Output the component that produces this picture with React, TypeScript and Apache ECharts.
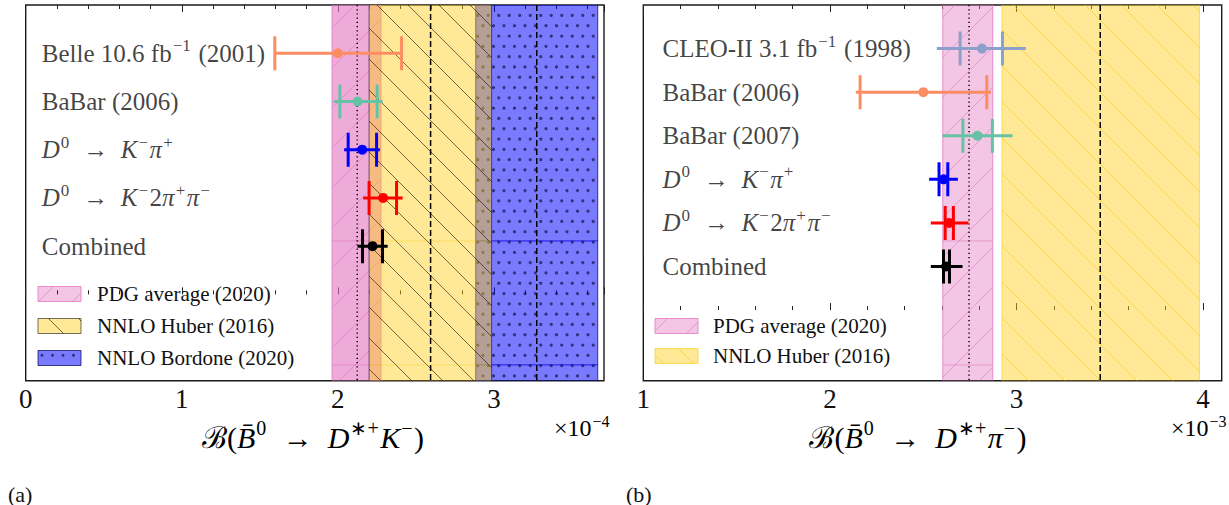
import React, { useEffect, useRef } from 'react';
import * as echarts from 'echarts';

const INK = '#111111';
const SERIF = 'Liberation Serif';
const SP = '\u2002';

// ---------- Panel (a): B(B0bar -> D*+ K-)  [x 10^-4] ----------
const leftLabels = [
  '{r|Belle 10.6 fb}{s|−1}{r| (2001)}',
  '{r|BaBar (2006)}',
  `{i|D}{s|0}{r|${SP}→${SP}}{i|K}{s|−}{i|π}{s|+}`,
  `{i|D}{s|0}{r|${SP}→${SP}}{i|K}{s|−}{r|2}{i|π}{s|+}{i|π}{s|−}`,
  '{r|Combined}',
];
const leftRowY = [5, 4, 3, 2, 1];
const leftCentre = [2.0, 2.126, 2.156, 2.29, 2.222];
const leftStatLo = [1.596, 2.013, 2.066, 2.2, 2.158];
const leftStatHi = [2.408, 2.252, 2.248, 2.376, 2.286];
const leftTotLo = [1.596, 1.974, 2.04, 2.162, 2.126];
const leftTotHi = [2.408, 2.287, 2.269, 2.415, 2.319];
const leftColours = ['#FC8D62', '#66C2A5', '#0000FF', '#FF0000', '#000000'];
const leftPdg = [1.963, 2.276, 2.124]; // low, high, central
const leftHuber = [2.2, 2.985, 2.594];
const leftBordone = [2.883, 3.665, 3.274];
const leftLegend = ['PDG average (2020)', 'NNLO Huber (2016)', 'NNLO Bordone (2020)'];

// ---------- Panel (b): B(B0bar -> D*+ pi-)  [x 10^-3] ----------
const rightLabels = [
  '{r|CLEO-II 3.1 fb}{s|−1}{r| (1998)}',
  '{r|BaBar (2006)}',
  '{r|BaBar (2007)}',
  `{i|D}{s|0}{r|${SP}→${SP}}{i|K}{s|−}{i|π}{s|+}`,
  `{i|D}{s|0}{r|${SP}→${SP}}{i|K}{s|−}{r|2}{i|π}{s|+}{i|π}{s|−}`,
  '{r|Combined}',
];
const rightRowY = [6, 5, 4, 3, 2, 1];
const rightCentre = [2.815, 2.501, 2.791, 2.609, 2.639, 2.623];
const rightStatLo = [2.698, 2.162, 2.713, 2.585, 2.618, 2.609];
const rightStatHi = [2.925, 2.841, 2.871, 2.632, 2.662, 2.641];
const rightTotLo = [2.573, 2.139, 2.603, 2.532, 2.541, 2.541];
const rightTotHi = [3.05, 2.863, 2.979, 2.686, 2.743, 2.711];
const rightColours = ['#8DA0CB', '#FC8D62', '#66C2A5', '#0000FF', '#FF0000', '#000000'];
const rightPdg = [2.605, 2.873, 2.746];
const rightHuber = [2.922, 3.981, 3.449];
const rightLegend = ['PDG average (2020)', 'NNLO Huber (2016)'];

const SEAMS = [0.628, 0.958];

const rich = (size: number) => ({
  r: { fontFamily: SERIF, fontSize: size, color: INK },
  i: { fontFamily: SERIF, fontSize: size, fontStyle: 'italic', color: INK },
  s: { fontFamily: SERIF, fontSize: Math.round(size * 0.68), color: INK, padding: [0, 1.5, Math.round(size * 0.6), 1] },
  c: { fontFamily: 'DejaVu Serif', fontSize: size, color: INK },
});

function hatch(x0: number, y0: number, x1: number, y1: number, sp: number, dir: string, stroke: string, lw: number) {
  const out: any[] = [];
  if (dir === 'back') {
    const kMin = Math.floor((y0 - x1) / sp) * sp;
    for (let k = kMin; k <= y1 - x0; k += sp) {
      const xa = Math.max(x0, y0 - k);
      const xb = Math.min(x1, y1 - k);
      if (xb > xa) out.push({ type: 'line', silent: true, shape: { x1: xa, y1: xa + k, x2: xb, y2: xb + k }, style: { stroke, lineWidth: lw } });
    }
  } else {
    const kMin = Math.floor((x0 + y0) / sp) * sp;
    for (let k = kMin; k <= x1 + y1; k += sp) {
      const xa = Math.max(x0, k - y1);
      const xb = Math.min(x1, k - y0);
      if (xb > xa) out.push({ type: 'line', silent: true, shape: { x1: xa, y1: k - xa, x2: xb, y2: k - xb }, style: { stroke, lineWidth: lw } });
    }
  }
  return out;
}

function dots(x0: number, y0: number, x1: number, y1: number, dx: number, dy: number, r: number, fill: string) {
  const out: any[] = [];
  for (let j = Math.floor(y0 / dy) - 1; j * dy <= y1 + dy; j++) {
    const y = j * dy + dy / 2;
    if (y < y0 + 1.5 || y > y1 - 1.5) continue;
    const off = Math.abs(j) % 2 ? dx / 2 : 0;
    for (let i = Math.floor((x0 - off) / dx) - 1; ; i++) {
      const x = i * dx + off;
      if (x > x1 - 1.5) break;
      if (x < x0 + 1.5) continue;
      out.push({ type: 'circle', silent: true, shape: { cx: x, cy: y, r }, style: { fill } });
    }
  }
  return out;
}

type BandStyle = {
  fill: string;
  edge: string;
  hatch?: { dir: string; sp: number; stroke: string; lw: number };
  dots?: { dx: number; dy: number; r: number; fill: string };
  centreDash: number[];
  seam?: string;
  z: number;
};

function bandSeries(axis: number, band: number[], o: BandStyle) {
  return {
    type: 'custom',
    xAxisIndex: axis,
    yAxisIndex: axis,
    z: o.z,
    silent: true,
    clip: true,
    encode: { x: [0, 1, 2] },
    data: [band],
    renderItem: (params: any, api: any) => {
      const cs = params.coordSys;
      const top = cs.y;
      const bot = cs.y + cs.height;
      const x0 = api.coord([api.value(0), 0])[0];
      const x1 = api.coord([api.value(1), 0])[0];
      const xc = api.coord([api.value(2), 0])[0];
      const ch: any[] = [
        { type: 'rect', shape: { x: x0, y: top, width: x1 - x0, height: bot - top }, style: { fill: o.fill } },
      ];
      if (o.dots) ch.push(...dots(x0, top, x1, bot, o.dots.dx, o.dots.dy, o.dots.r, o.dots.fill));
      if (o.hatch) ch.push(...hatch(x0, top, x1, bot, o.hatch.sp, o.hatch.dir, o.hatch.stroke, o.hatch.lw));
      if (o.seam) {
        for (const f of SEAMS) {
          const y = top + f * (bot - top);
          ch.push({ type: 'line', shape: { x1: x0, y1: y, x2: x1, y2: y }, style: { stroke: o.seam, lineWidth: 1 } });
        }
      }
      ch.push({ type: 'line', shape: { x1: x0, y1: top, x2: x0, y2: bot }, style: { stroke: o.edge, lineWidth: 1 } });
      ch.push({ type: 'line', shape: { x1: x1, y1: top, x2: x1, y2: bot }, style: { stroke: o.edge, lineWidth: 1 } });
      ch.push({
        type: 'line',
        shape: { x1: xc, y1: top, x2: xc, y2: bot },
        style: { stroke: '#000', lineWidth: 1.5, lineDash: o.centreDash },
      });
      return { type: 'group', children: ch };
    },
  };
}

function errorSeries(axis: number, ys: number[], c: number[], sLo: number[], sHi: number[], tLo: number[], tHi: number[], cols: string[]) {
  const data = ys.map((y, i) => [y, c[i], sLo[i], sHi[i], tLo[i], tHi[i]]);
  return {
    type: 'custom',
    xAxisIndex: axis,
    yAxisIndex: axis,
    z: 10,
    silent: true,
    clip: true,
    encode: { x: [1, 2, 3, 4, 5], y: 0 },
    data,
    renderItem: (params: any, api: any) => {
      const col = cols[params.dataIndex];
      const yv = api.value(0);
      const px = (v: number) => api.coord([v, yv])[0];
      const y = api.coord([0, yv])[1];
      const st = { stroke: col, lineWidth: 3 };
      const h = 17;
      return {
        type: 'group',
        children: [
          { type: 'line', shape: { x1: px(api.value(4)), y1: y, x2: px(api.value(5)), y2: y }, style: st },
          { type: 'line', shape: { x1: px(api.value(2)), y1: y - h, x2: px(api.value(2)), y2: y + h }, style: st },
          { type: 'line', shape: { x1: px(api.value(3)), y1: y - h, x2: px(api.value(3)), y2: y + h }, style: st },
          { type: 'circle', shape: { cx: px(api.value(1)), cy: y, r: 5 }, style: { fill: col } },
        ],
      };
    },
  };
}

function labelSeries(axis: number, x: number, ys: number[], labels: string[]) {
  return {
    type: 'scatter',
    xAxisIndex: axis,
    yAxisIndex: axis,
    z: 11,
    silent: true,
    symbolSize: 1,
    itemStyle: { color: 'rgba(0,0,0,0)' },
    data: ys.map((y) => [x, y]),
    label: {
      show: true,
      position: 'right',
      distance: 0,
      formatter: (p: any) => labels[p.dataIndex],
      rich: rich(25),
    },
  };
}

function xAxes(grid: number, min: number, max: number) {
  const tick = { show: true, inside: true, length: 7, lineStyle: { color: '#222', width: 1 } };
  const minor = { show: true, splitNumber: 5, length: 4, lineStyle: { color: '#222', width: 1 } };
  return [
    {
      type: 'value', gridIndex: grid, position: 'bottom', min, max, interval: 1,
      axisLine: { show: false }, axisTick: tick, minorTick: minor, splitLine: { show: false },
      axisLabel: {
        show: true, margin: 5, fontFamily: SERIF, fontSize: 27, color: INK,
        showMaxLabel: false,
        formatter: (v: number) => (Math.abs(v - Math.round(v)) < 1e-9 ? String(Math.round(v)) : ''),
      },
    },
    {
      type: 'value', gridIndex: grid, position: 'top', min, max, interval: 1,
      axisLine: { show: false }, axisTick: tick, minorTick: minor, splitLine: { show: false },
      axisLabel: { show: false },
    },
  ];
}

function legendItem(x: number, y: number, label: string, kind: string, pale: boolean, textX: number) {
  const w = 43;
  const h = 15;
  const x0 = x;
  const y0 = y - h / 2;
  const x1 = x + w;
  const y1 = y + h / 2;
  const els: any[] = [];
  if (kind === 'pdg') {
    els.push({ type: 'rect', shape: { x: x0, y: y0, width: w, height: h }, style: { fill: 'rgba(227,119,194,0.42)' } });
    els.push(...hatch(x0, y0, x1, y1, 34, 'fwd', 'rgba(220,100,180,0.5)', 1));
    els.push({ type: 'rect', shape: { x: x0, y: y0, width: w, height: h }, style: { fill: 'none', stroke: 'rgba(227,119,194,0.8)', lineWidth: 1 } });
  } else if (kind === 'huber') {
    els.push({ type: 'rect', shape: { x: x0, y: y0, width: w, height: h }, style: { fill: 'rgba(255,206,22,0.45)' } });
    if (pale) {
      els.push(...hatch(x0, y0, x1, y1, 30, 'back', 'rgba(250,200,0,0.55)', 1));
      els.push({ type: 'rect', shape: { x: x0, y: y0, width: w, height: h }, style: { fill: 'none', stroke: 'rgba(250,205,0,0.6)', lineWidth: 1 } });
    } else {
      els.push(...hatch(x0, y0, x1, y1, 30, 'back', 'rgba(0,0,0,0.55)', 1));
      els.push({ type: 'rect', shape: { x: x0, y: y0, width: w, height: h }, style: { fill: 'none', stroke: 'rgba(0,0,0,0.55)', lineWidth: 1 } });
    }
  } else {
    els.push({ type: 'rect', shape: { x: x0, y: y0, width: w, height: h }, style: { fill: 'rgba(0,0,255,0.52)' } });
    els.push(...dots(x0, y0, x1, y1, 10.5, 10.3, 1.5, 'rgba(20,20,70,0.7)'));
    els.push({ type: 'rect', shape: { x: x0, y: y0, width: w, height: h }, style: { fill: 'none', stroke: 'rgba(0,0,80,0.7)', lineWidth: 1 } });
  }
  els.push({
    type: 'text', x: textX, y,
    style: { text: label, fontFamily: SERIF, fontSize: 21, fill: INK, align: 'left', verticalAlign: 'middle' },
  });
  return els;
}

export default function App() {
  const ref = useRef<HTMLDivElement>(null);
  useEffect(() => {
    document.body.style.margin = '0';
    const chart = echarts.init(ref.current!, null, { renderer: 'svg' });
    const [xb0, xt0] = xAxes(0, 0, 3.705);
    const [xb1, xt1] = xAxes(1, 1, 4.1);
    const pink = 'rgba(220,100,180,0.45)';
    const option: any = {
      animation: false,
      backgroundColor: '#ffffff',
      textStyle: { fontFamily: SERIF },
      grid: [
        { left: 25.7, top: 5, width: 578.3, height: 375.7, show: true, borderColor: '#1a1a1a', borderWidth: 1.4, backgroundColor: 'transparent' },
        { left: 643.3, top: 5, width: 578.4, height: 375.7, show: true, borderColor: '#1a1a1a', borderWidth: 1.4, backgroundColor: 'transparent' },
      ],
      xAxis: [xb0, xb1, { ...xt0, gridIndex: 0 }, { ...xt1, gridIndex: 1 }],
      yAxis: [
        { type: 'value', gridIndex: 0, min: -1.79, max: 6, show: false },
        { type: 'value', gridIndex: 1, min: -1.62, max: 7, show: false },
      ],
      series: [
        bandSeries(0, leftPdg, {
          fill: 'rgba(227,119,194,0.62)', edge: 'rgba(227,119,194,0.9)',
          hatch: { dir: 'fwd', sp: 40, stroke: pink, lw: 1 },
          centreDash: [1.2, 3], seam: 'rgba(220,100,180,0.45)', z: 1,
        }),
        bandSeries(0, leftBordone, {
          fill: 'rgba(0,0,255,0.52)', edge: 'rgba(0,0,80,0.7)',
          dots: { dx: 10.5, dy: 10.3, r: 1.6, fill: 'rgba(20,20,70,0.7)' },
          centreDash: [6, 3], seam: 'rgba(0,0,220,0.8)', z: 2,
        }),
        bandSeries(0, leftHuber, {
          fill: 'rgba(255,206,22,0.45)', edge: 'rgba(0,0,0,0.55)',
          hatch: { dir: 'back', sp: 31, stroke: 'rgba(0,0,0,0.55)', lw: 1 },
          centreDash: [6, 3], seam: 'rgba(245,200,0,0.35)', z: 3,
        }),
        bandSeries(1, rightPdg, {
          fill: 'rgba(227,119,194,0.42)', edge: 'rgba(227,119,194,0.8)',
          hatch: { dir: 'fwd', sp: 40, stroke: pink, lw: 1 },
          centreDash: [1.2, 3], seam: 'rgba(220,100,180,0.45)', z: 1,
        }),
        bandSeries(1, rightHuber, {
          fill: 'rgba(255,206,22,0.45)', edge: 'rgba(250,205,0,0.6)',
          hatch: { dir: 'back', sp: 36, stroke: 'rgba(250,200,0,0.55)', lw: 1 },
          centreDash: [6, 3], z: 3,
        }),
        errorSeries(0, leftRowY, leftCentre, leftStatLo, leftStatHi, leftTotLo, leftTotHi, leftColours),
        errorSeries(1, rightRowY, rightCentre, rightStatLo, rightStatHi, rightTotLo, rightTotHi, rightColours),
        labelSeries(0, 0.1, leftRowY, leftLabels),
        labelSeries(1, 1.1, rightRowY, rightLabels),
      ],
      graphic: [
        ...legendItem(38, 294, leftLegend[0], 'pdg', false, 97),
        ...legendItem(38, 326, leftLegend[1], 'huber', false, 97),
        ...legendItem(38, 358, leftLegend[2], 'bordone', false, 97),
        ...legendItem(655, 326, rightLegend[0], 'pdg', true, 713),
        ...legendItem(655, 356, rightLegend[1], 'huber', true, 713),
        {
          type: 'text', x: 313, y: 437,
          style: { text: `{c|ℬ}{r|(}{i|B̄}{s|0}{r|${SP}→${SP}}{i|D}{s|∗+}{i|K}{s|−}{r|)}`, rich: rich(30), align: 'center', verticalAlign: 'middle' },
        },
        {
          type: 'text', x: 918, y: 437,
          style: { text: `{c|ℬ}{r|(}{i|B̄}{s|0}{r|${SP}→${SP}}{i|D}{s|∗+}{i|π}{s|−}{r|)}`, rich: rich(30), align: 'center', verticalAlign: 'middle' },
        },
        {
          type: 'text', x: 611, y: 428,
          style: { text: '{r|×10}{s|−4}', rich: rich(24), align: 'right', verticalAlign: 'middle' },
        },
        {
          type: 'text', x: 1228, y: 428,
          style: { text: '{r|×10}{s|−3}', rich: rich(24), align: 'right', verticalAlign: 'middle' },
        },
        { type: 'text', x: 8, y: 494, style: { text: '(a)', fontFamily: SERIF, fontSize: 22, fill: INK, align: 'left', verticalAlign: 'middle' } },
        { type: 'text', x: 626, y: 494, style: { text: '(b)', fontFamily: SERIF, fontSize: 22, fill: INK, align: 'left', verticalAlign: 'middle' } },
      ],
    };
    chart.setOption(option);
    return () => chart.dispose();
  }, []);
  return <div ref={ref} style={{ width: 1229, height: 505 }} />;
}
